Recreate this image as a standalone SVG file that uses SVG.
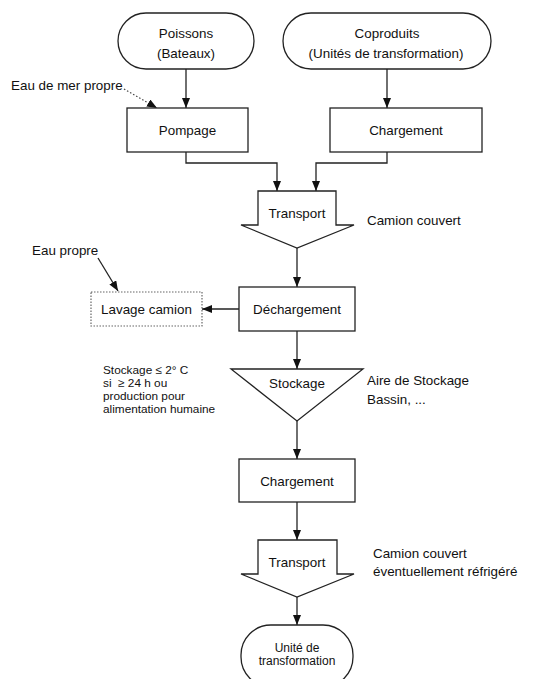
<svg xmlns="http://www.w3.org/2000/svg" width="541" height="679" viewBox="0 0 541 679">
<style>
  .shape{fill:#fff;stroke:#222;stroke-width:1.3}
  .dotbox{fill:#fff;stroke:#666;stroke-width:1.2;stroke-dasharray:1.5 1.5}
  .t{font-family:"Liberation Sans",Arial,sans-serif;font-size:13.4px;fill:#111;dominant-baseline:central}
  .c{text-anchor:middle}
  .s{font-size:12px}
  .n{font-size:11.8px;white-space:pre}
  .con{fill:none;stroke:#222;stroke-width:1.3}
  .dot{stroke-dasharray:1.5 2;stroke:#444}
</style>
<defs>
  <marker id="ah" markerUnits="userSpaceOnUse" markerWidth="10" markerHeight="8" refX="10" refY="4" orient="auto">
    <path d="M0,0 L10,4 L0,8 z" fill="#111"/>
  </marker>
</defs>
<rect width="541" height="679" fill="#fff"/>
<g id="connectors">
  <path class="con" d="M186,69 V108" marker-end="url(#ah)"/>
  <path class="con" d="M387,69 V108" marker-end="url(#ah)"/>
  <path class="con dot" d="M124,89 L157,108" marker-end="url(#ah)"/>
  <path class="con" d="M186,152 V163 H277 V191" marker-end="url(#ah)"/>
  <path class="con" d="M387,152 V163 H316 V191" marker-end="url(#ah)"/>
  <path class="con" d="M297,248 V287" marker-end="url(#ah)"/>
  <path class="con" d="M98,258 L118,291" marker-end="url(#ah)"/>
  <path class="con" d="M239,309 H202" marker-end="url(#ah)"/>
  <path class="con" d="M297,331 V369" marker-end="url(#ah)"/>
  <path class="con" d="M297,421 V459" marker-end="url(#ah)"/>
  <path class="con" d="M297,502 V540" marker-end="url(#ah)"/>
  <path class="con" d="M297,597 V625" marker-end="url(#ah)"/>
</g>
<g id="poissons">
  <rect class="shape" x="118" y="13" width="136" height="56" rx="28" ry="28"/>
  <text class="t c" x="186" y="33">Poissons</text>
  <text class="t c" x="186" y="53">(Bateaux)</text>
</g>
<g id="coproduits">
  <rect class="shape" x="283" y="13" width="208" height="56" rx="28" ry="28"/>
  <text class="t c" x="387" y="33">Coproduits</text>
  <text class="t c" x="386" y="53">(Unités de transformation)</text>
</g>
<g id="eau-mer">
  <text class="t" x="11" y="85">Eau de mer propre</text>
</g>
<g id="pompage">
  <rect class="shape" x="127" y="108" width="121" height="44"/>
  <text class="t c" x="187.5" y="130">Pompage</text>
</g>
<g id="chargement1">
  <rect class="shape" x="330" y="108" width="152" height="44"/>
  <text class="t c" x="406" y="130">Chargement</text>
</g>
<g id="transport1">
  <polygon class="shape" points="258,191 336,191 336,225 354,225 297,248 241,225 258,225"/>
  <text class="t c" x="297" y="213">Transport</text>
  <text class="t" x="367" y="220">Camion couvert</text>
</g>
<g id="eau-propre">
  <text class="t" x="32" y="250">Eau propre</text>
</g>
<g id="lavage">
  <rect class="dotbox" x="91" y="292" width="111" height="34"/>
  <text class="t c" x="146.5" y="309">Lavage camion</text>
</g>
<g id="dechargement">
  <rect class="shape" x="239" y="287" width="116" height="44"/>
  <text class="t c" x="297" y="309">Déchargement</text>
</g>
<g id="stockage">
  <polygon class="shape" points="231,369 363,369 297,421"/>
  <text class="t c" x="297" y="383">Stockage</text>
  <text class="t n" x="103" y="370">Stockage ≤ 2° C</text>
  <text class="t n" x="103" y="383" xml:space="preserve">si  ≥ 24 h ou</text>
  <text class="t n" x="103" y="396">production pour</text>
  <text class="t n" x="103" y="409">alimentation humaine</text>
  <text class="t" x="367" y="380">Aire de Stockage</text>
  <text class="t" x="367" y="399">Bassin, ...</text>
</g>
<g id="chargement2">
  <rect class="shape" x="239" y="459" width="116" height="43"/>
  <text class="t c" x="297" y="481">Chargement</text>
</g>
<g id="transport2">
  <polygon class="shape" points="258,540 337,540 337,574 354,574 297,597 241,574 258,574"/>
  <text class="t c" x="297" y="562">Transport</text>
  <text class="t" x="373" y="553">Camion couvert</text>
  <text class="t" x="373" y="571">éventuellement réfrigéré</text>
</g>
<g id="unite">
  <rect class="shape" x="241" y="625" width="112" height="62" rx="30" ry="30"/>
  <text class="t c s" x="297" y="648">Unité de</text>
  <text class="t c s" x="297" y="661">transformation</text>
</g>
</svg>
